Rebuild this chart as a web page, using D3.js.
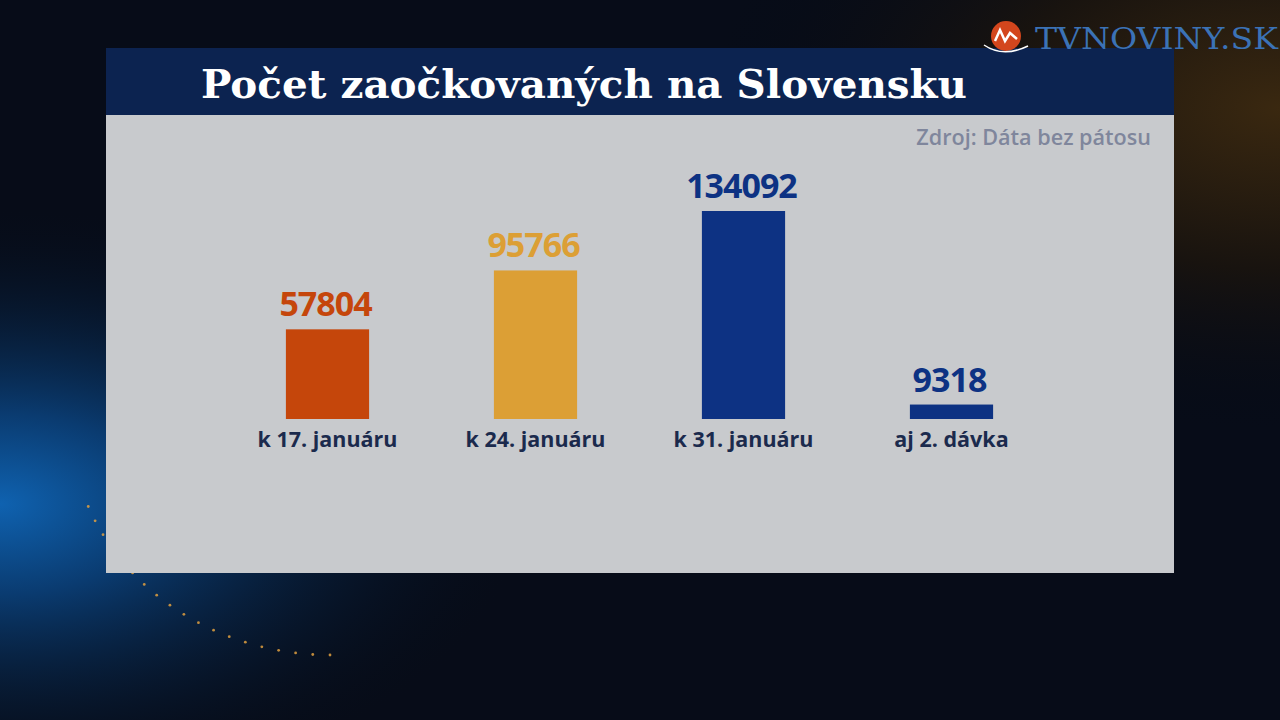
<!DOCTYPE html>
<html>
<head>
<meta charset="utf-8">
<script src="https://cdn.jsdelivr.net/npm/d3@7"></script>
<style>
html,body{margin:0;padding:0;background:#050a16;overflow:hidden;}
svg{display:block;}
</style>
</head>
<body>
<svg id="chart" width="1280" height="720"></svg>
<script>
const categories = ["k 17. januáru", "k 24. januáru", "k 31. januáru", "aj 2. dávka"];
const values = [57804, 95766, 134092, 9318];
const barColors = ["#c5460b", "#dc9f35", "#0d3283", "#0d3283"];
const titleText = "Počet zaočkovaných na Slovensku";
const sourceText = "Zdroj: Dáta bez pátosu";
const logoText = "TVNOVINY.SK";

const W = 1280, H = 720;
const svg = d3.select("#chart");
const defs = svg.append("defs");

// background
const bg = defs.append("radialGradient").attr("id","bgBlue").attr("cx","0").attr("cy","0.7").attr("r","0.42");
bg.append("stop").attr("offset","0").attr("stop-color","#0f62b0");
bg.append("stop").attr("offset","0.3").attr("stop-color","#0a3b70");
bg.append("stop").attr("offset","1").attr("stop-color","#050a16").attr("stop-opacity","0");
const bg2 = defs.append("radialGradient").attr("id","bgOrange").attr("cx","1").attr("cy","0.15").attr("r","0.45");
bg2.append("stop").attr("offset","0").attr("stop-color","#3a2810");
bg2.append("stop").attr("offset","0.5").attr("stop-color","#18130f");
bg2.append("stop").attr("offset","1").attr("stop-color","#050a16").attr("stop-opacity","0");
svg.append("rect").attr("width",W).attr("height",H).attr("fill","#070c18");
svg.append("rect").attr("width",W).attr("height",H).attr("fill","url(#bgOrange)");
svg.append("rect").attr("width",W).attr("height",H).attr("fill","url(#bgBlue)");

// decorative orange particle arc (background ornament)
const arcPts = d3.range(0, 1.0001, 1/18).map(t => {
  const a = Math.PI*(0.5 + 0.38*t);
  return [330 + 260*Math.cos(a), 420 + 235*Math.sin(a)];
});
svg.append("g").selectAll("circle").data(arcPts).join("circle")
  .attr("cx",d=>d[0]).attr("cy",d=>d[1]).attr("r",1.4).attr("fill","#e0a040").attr("opacity",0.85);

// panel
const panel = {x:106, y:48, w:1068, titleH:67, h:525};
svg.append("rect").attr("x",panel.x).attr("y",panel.y+panel.titleH).attr("width",panel.w).attr("height",panel.h-panel.titleH).attr("fill","#c8cacd");
svg.append("rect").attr("x",panel.x).attr("y",panel.y).attr("width",panel.w).attr("height",panel.titleH).attr("fill","#0c2350");

svg.append("text").attr("x",201).attr("y",98)
  .attr("font-family","'DejaVu Serif', serif").attr("font-weight","bold").attr("font-size",40)
  .attr("textLength",766).attr("lengthAdjust","spacingAndGlyphs")
  .attr("fill","#ffffff").text(titleText);

svg.append("text").attr("x",1151).attr("y",145).attr("text-anchor","end")
  .attr("font-family","'Open Sans', sans-serif").attr("font-weight","600").attr("font-size",21.6)
  .attr("fill","#7f869c").text(sourceText);

// logo
const logo = svg.append("g");
logo.append("circle").attr("cx",1006).attr("cy",36).attr("r",15).attr("fill","#d3461d");
logo.append("path").attr("d","M995,41 L1000,30 L1005,41 L1010,33 L1017,39").attr("fill","none").attr("stroke","#fff").attr("stroke-width",2.5);
logo.append("path").attr("d","M984,45 Q1003,58 1028,46").attr("fill","none").attr("stroke","#fff").attr("stroke-width",1.5);
logo.append("text").attr("x",1035).attr("y",49)
  .attr("font-family","'DejaVu Serif', serif").attr("font-size",30).attr("fill","#3b72b6")
  .attr("textLength",243).attr("lengthAdjust","spacingAndGlyphs").text(logoText);

// scales
const x = d3.scaleBand().domain(categories).range([223.5,1055.5]).paddingInner(0.6).paddingOuter(0.3);
const y = d3.scaleLinear().domain([0, d3.max(values)]).range([419, 211]);

const data = categories.map((c,i)=>({c, v:values[i], col:barColors[i]}));
const g = svg.append("g");
g.selectAll("rect.bar").data(data).join("rect").attr("class","bar")
  .attr("x",d=>x(d.c)).attr("width",x.bandwidth())
  .attr("y",d=>y(d.v)).attr("height",d=>y(0)-y(d.v)).attr("fill",d=>d.col);

g.selectAll("text.val").data(data).join("text").attr("class","val")
  .attr("x",d=>x(d.c)+x.bandwidth()/2 - 2).attr("y",d=>y(d.v)-13)
  .attr("text-anchor","middle")
  .attr("font-family","'Open Sans', sans-serif").attr("font-weight","bold").attr("font-size",34)
  .attr("letter-spacing",-1)
  .attr("fill",d=>d.col).text(d=>d.v);

const xAxis = d3.axisBottom(x).tickSize(0).tickPadding(0);
const ax = svg.append("g").attr("transform","translate(0,419)").call(xAxis);
ax.select(".domain").remove();
ax.selectAll("text").attr("dy",null).attr("y",28)
  .attr("font-family","'Open Sans', sans-serif").attr("font-weight","bold").attr("font-size",21.5)
  .attr("fill","#1b2a4d");
</script>
</body>
</html>
